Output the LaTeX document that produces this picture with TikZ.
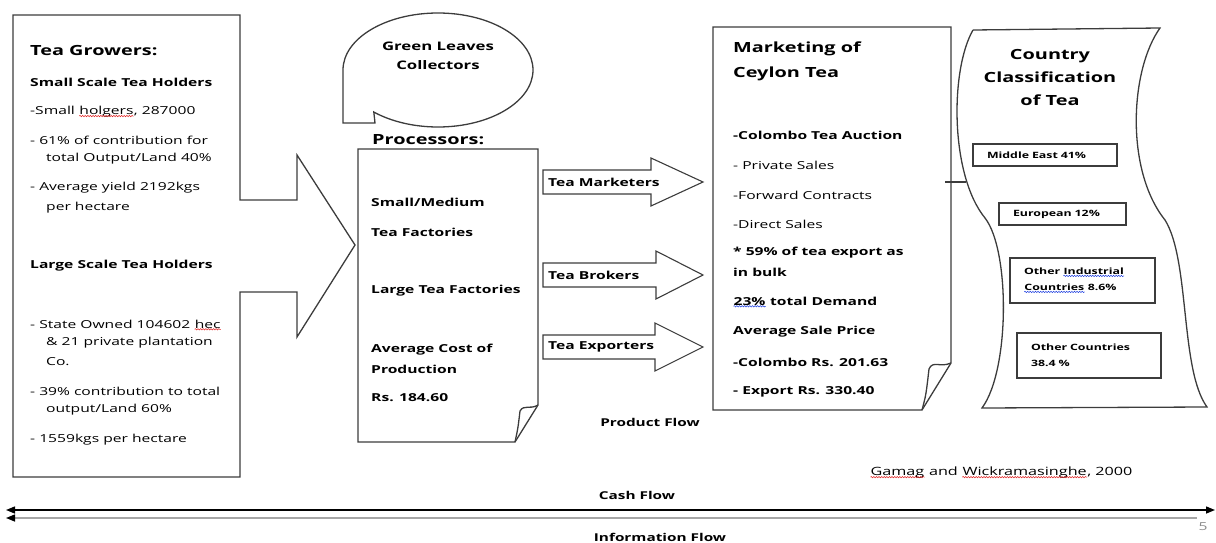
\documentclass[tikz,border=0pt]{standalone}
\usepackage{fontspec}
\setmainfont{Open Sans}[FakeStretch=1.42]
\usetikzlibrary{arrows.meta,decorations.pathmorphing}
% wavy spell-check underline in a given colour
\newcommand\spellwave[2]{\tikz[baseline=(w.base)]{\node[inner sep=0,text width={},align=none,
	minimum width=0pt,minimum height=0pt,draw=none](w){#2};
	\draw[#1,line width=0.5pt,decorate,decoration={snake,amplitude=0.7pt,segment length=2.6pt}]
	([yshift=-1.2pt]w.base west) -- ([yshift=-1.2pt]w.base east);}}
\definecolor{lineg}{HTML}{3C3C3C}
\definecolor{wavered}{HTML}{E02020}
\definecolor{waveblue}{HTML}{2040E0}

\begin{document}
\begin{tikzpicture}[x=1pt,y=-1pt,
outline/.style={draw=lineg,line width=1.3pt,line join=miter},
head/.style={anchor=west,inner sep=0,font=\fontsize{14}{17}\selectfont\bfseries},
sub/.style={anchor=west,inner sep=0,font=\fontsize{11}{13}\selectfont\bfseries},
body/.style={anchor=west,inner sep=0,font=\fontsize{11}{13}\selectfont},
flow/.style={anchor=center,inner sep=0,font=\fontsize{10.8}{13}\selectfont\bfseries},
catbox/.style={draw=lineg,line width=1.1pt,inner xsep=14pt,inner ysep=0,align=left,
	font=\fontsize{8.7}{16}\selectfont\bfseries}]
\useasboundingbox (0,0) rectangle (1216,543);

%growers box with its arrow
\draw[outline] (13,15) -- (240,15) -- (240,200) -- (297,200) -- (297,155) -- (355,245)
	-- (297,337) -- (297,292) -- (240,292) -- (240,477) -- (13,477) -- cycle;
\node[head](grow) at (30,51) {Tea Growers:};
\node[sub](small) at (30,82) {Small Scale Tea Holders};
\node[body](s1) at (30,112) {-Small \spellwave{wavered}{holgers}, 287000};
\node[body](s2) at (30,140) {- 61\% of contribution for};
\node[body](s3) at (46,159) {total Output/Land 40\%};
\node[body](s4) at (30,188) {- Average yield 2192kgs};
\node[body](s5) at (46,208) {per hectare};
\node[sub](large) at (30,266) {Large Scale Tea Holders};
\node[body](l1) at (30,325) {- State Owned 104602 \spellwave{wavered}{hec}};
\node[body](l2) at (46,343) {\& 21 private plantation};
\node[body](l3) at (46,362) {Co.};
\node[body](l4) at (30,391) {- 39\% contribution to total};
\node[body](l5) at (46,410) {output/Land 60\%};
\node[body](l6) at (30,440) {- 1559kgs per hectare};

%collectors callout
\draw[outline] (343,70) arc[start angle=180,end angle=492.5,x radius=95,y radius=57]
	-- (375,123) -- (343,123) -- cycle;
\node[sub,anchor=center,align=center,font=\fontsize{11.8}{14}\selectfont\bfseries](green) at (438,56)
	{Green Leaves\\[5pt]Collectors};

%processors sheet
\node[head](proc) at (372,140) {Processors:};
\draw[outline] (358,149) -- (538,149) -- (538,405) -- (515,442) -- (358,442) -- cycle;
\draw[outline] (515,442) .. controls (518,428) .. (520,411) .. controls (524,404) and (530,410) .. (538,405);
\node[sub](p1) at (371,202) {Small/Medium};
\node[sub](p2) at (371,232) {Tea Factories};
\node[sub](p3) at (371,291) {Large Tea Factories};
\node[sub](p4) at (371,350) {Average Cost of};
\node[sub](p5) at (371,369) {Production};
\node[sub](p6) at (371,398) {Rs. 184.60};

%block arrows to marketing
\foreach \nm/\y/\hx in {mkt/182/651,brk/275/656,exp/347/655}{
	\draw[outline,line width=1.1pt] (543,\y-12) -- (\hx,\y-12) -- (\hx,\y-24) -- (703,\y)
		-- (\hx,\y+24) -- (\hx,\y+12) -- (543,\y+12) -- cycle;
}
\node[sub](mkt) at (548,182) {Tea Marketers};
\node[sub](brk) at (548,275) {Tea Brokers};
\node[sub](exp) at (548,347) {Tea Exporters};

%marketing sheet
\draw[outline] (713,27) -- (951,27) -- (951,363) -- (922,410) -- (713,410) -- cycle;
\draw[outline] (922,410) .. controls (926,395) .. (929,369) .. controls (933,360) and (940,368) .. (951,363);
\node[head](mk1) at (733,49) {Marketing of};
\node[head](mk2) at (733,74) {Ceylon Tea};
\node[sub](m1) at (733,135) {-Colombo Tea Auction};
\node[body](m2) at (733,165) {- Private Sales};
\node[body](m3) at (733,195) {-Forward Contracts};
\node[body](m4) at (733,224) {-Direct Sales};
\node[sub](m5) at (733,253) {* 59\% of tea export as};
\node[sub](m6) at (733,272) {in bulk};
\node[sub](m7) at (733,302) {\spellwave{waveblue}{23\%} total Demand};
\node[sub](m8) at (733,332) {Average Sale Price};
\node[sub](m9) at (733,362) {-Colombo Rs. 201.63};
\node[sub](m10) at (733,392) {- Export Rs. 330.40};

%country classification banner
\draw[outline] (973,30) -- (1160,28) .. controls (1130,70) and (1125,170) .. (1165,220)
	.. controls (1190,260) and (1180,370) .. (1207,407) -- (982,408)
	.. controls (1010,370) and (1010,250) .. (985,218)
	.. controls (950,175) and (950,70) .. (973,30);
\node[head,anchor=center,align=center](cc) at (1050,77) {Country\\[6pt]Classification\\[6pt]of Tea};
\node[catbox,minimum width=144pt,minimum height=22pt,text width=116pt](me) at (1045,155) {Middle East 41\%};
\node[catbox,minimum width=127pt,minimum height=22pt,text width=99pt](eu) at (1062.5,214) {European 12\%};
\node[catbox,minimum width=145pt,minimum height=45pt,text width=117pt](oi) at (1082.5,280.5)
	{Other \spellwave{waveblue}{Industrial}\\\spellwave{waveblue}{Countries} 8.6\%};
\node[catbox,minimum width=144pt,minimum height=45pt,text width=116pt](oc) at (1089,355.5)
	{Other Countries\\38.4 \%};

%link between marketing and banner
\coordinate(mk-e) at (945,182);
\coordinate(cc-w) at (966,182);
\draw[lineg,line width=1.1pt] (mk-e) -- (cc-w);

%flows along the bottom
\node[flow](prod) at (650,422) {Product Flow};
\node[body,font=\fontsize{11.4}{13}\selectfont](src) at (870,473)
	{\spellwave{wavered}{Gamag} and \spellwave{wavered}{Wickramasinghe}, 2000};
\node[flow](cash) at (637,495) {Cash Flow};
\node[flow](info) at (660,537) {Information Flow};
\coordinate(cashL) at (6,510);
\coordinate(cashR) at (1215,510);
\coordinate(infoL) at (6,518);
\coordinate(infoR) at (1197,518);
\draw[black,line width=1.4pt,{Triangle[length=9pt,width=7pt]}-{Triangle[length=9pt,width=7pt]}] (cashL) -- (cashR);
\draw[black!35,line width=1.4pt,{Triangle[length=9pt,width=7pt,color=black]}-] (infoL) -- (infoR);
\node[anchor=center,inner sep=0,text=black!45,font=\fontsize{11}{13}\selectfont](pg) at (1203,527) {5};
\end{tikzpicture}
\end{document}
